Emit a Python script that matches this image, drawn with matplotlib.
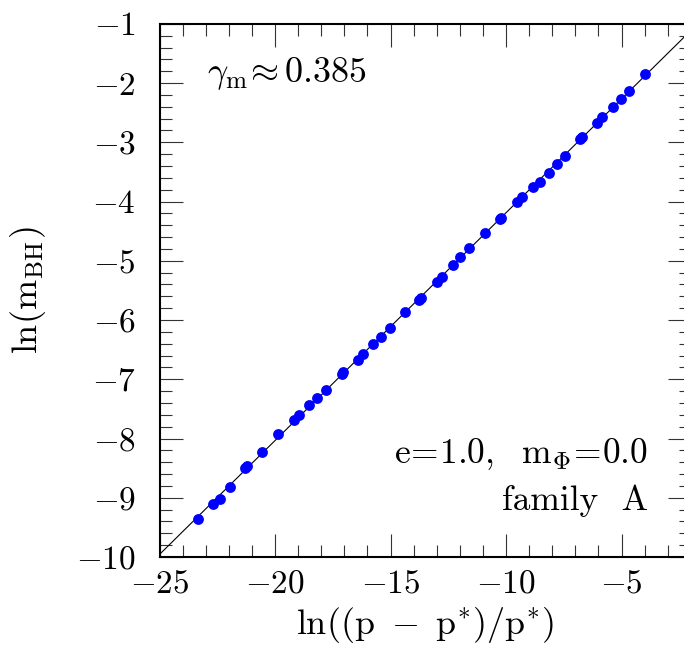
import numpy as np
import matplotlib
matplotlib.use('Agg')
import matplotlib.pyplot as plt
from matplotlib.ticker import MultipleLocator

plt.rcParams['font.family'] = 'serif'
plt.rcParams['font.serif'] = ['cmr10', 'DejaVu Serif']
plt.rcParams['mathtext.fontset'] = 'cm'
plt.rcParams['axes.formatter.use_mathtext'] = True

# ---------------------------------------------------------------------------
# Data
# ---------------------------------------------------------------------------
ln_dp = [-23.32, -22.67, -22.38, -21.97, -21.28, -21.20, -20.58, -19.87,
         -19.18, -18.96, -18.51, -18.18, -17.81, -17.12, -17.04, -16.43,
         -16.18, -15.75, -15.40, -15.04, -14.37, -13.77, -13.69, -12.97,
         -12.79, -12.31, -12.00, -11.60, -10.91, -10.28, -10.20, -9.52,
         -9.32, -8.83, -8.52, -8.14, -7.78, -7.46, -6.78, -6.70,
         -6.08, -5.83, -5.38, -5.04, -4.69, -3.98]
ln_mbh = [-9.35, -9.10, -9.02, -8.82, -8.50, -8.47, -8.23, -7.93,
          -7.68, -7.60, -7.43, -7.31, -7.18, -6.91, -6.88, -6.67,
          -6.57, -6.41, -6.28, -6.13, -5.87, -5.66, -5.63, -5.35,
          -5.28, -5.07, -4.94, -4.78, -4.53, -4.30, -4.27, -4.00,
          -3.92, -3.76, -3.67, -3.51, -3.36, -3.23, -2.95, -2.91,
          -2.67, -2.58, -2.40, -2.27, -2.13, -1.85]

x_lim = (-25, -2)
y_lim = (-10, -1)

# ---------------------------------------------------------------------------
# Plot
# ---------------------------------------------------------------------------
fig = plt.figure(figsize=(6.84, 6.54), dpi=100)
# right spine falls just outside the image, as in the reference
ax = fig.add_axes([0.2332, 0.1483, 0.7769, 0.8153])

# least-squares line through the points
slope, icpt = np.polyfit(ln_dp, ln_mbh, 1)
xx = np.array(x_lim, dtype=float)
ax.plot(xx, slope * xx + icpt, color='black', linewidth=0.8, zorder=2)

ax.plot(ln_dp, ln_mbh, 'o', color='#0000ff', markersize=7.8,
        markeredgewidth=0, zorder=3)

ax.set_xlim(*x_lim)
ax.set_ylim(*y_lim)

ax.xaxis.set_major_locator(MultipleLocator(5))
ax.xaxis.set_minor_locator(MultipleLocator(1))
ax.yaxis.set_major_locator(MultipleLocator(1))
ax.yaxis.set_minor_locator(MultipleLocator(0.2))

ax.tick_params(which='both', direction='in', top=True, right=True,
               labelsize=24, width=0.8, color='#333333')
ax.tick_params(which='major', length=16.6)
ax.tick_params(which='minor', length=8.4)
ax.tick_params(axis='x', which='major', pad=9)
ax.tick_params(axis='y', which='major', pad=17)
for sp in ax.spines.values():
    sp.set_linewidth(1.5)

ax.set_xlabel(r'$\rm ln((p\ -\ p^{*})/p^{*})$', fontsize=26, labelpad=5)
ax.set_ylabel(r'$\rm ln(m_{BH})$', fontsize=26, labelpad=20)

ax.text(0.089, 0.89, r'$\gamma_{\rm m}\!\approx\!\,0.385$', transform=ax.transAxes,
        fontsize=26, ha='left', va='baseline')
ax.text(0.919, 0.176, r'$\rm e\!=\!1.0,\ \ m_{\Phi}\!=\!0.0$', transform=ax.transAxes,
        fontsize=25.5, ha='right', va='baseline')
ax.text(0.919, 0.088, 'family  A', transform=ax.transAxes,
        fontsize=25.5, ha='right', va='baseline')

fig.savefig('out.png', dpi=100)
